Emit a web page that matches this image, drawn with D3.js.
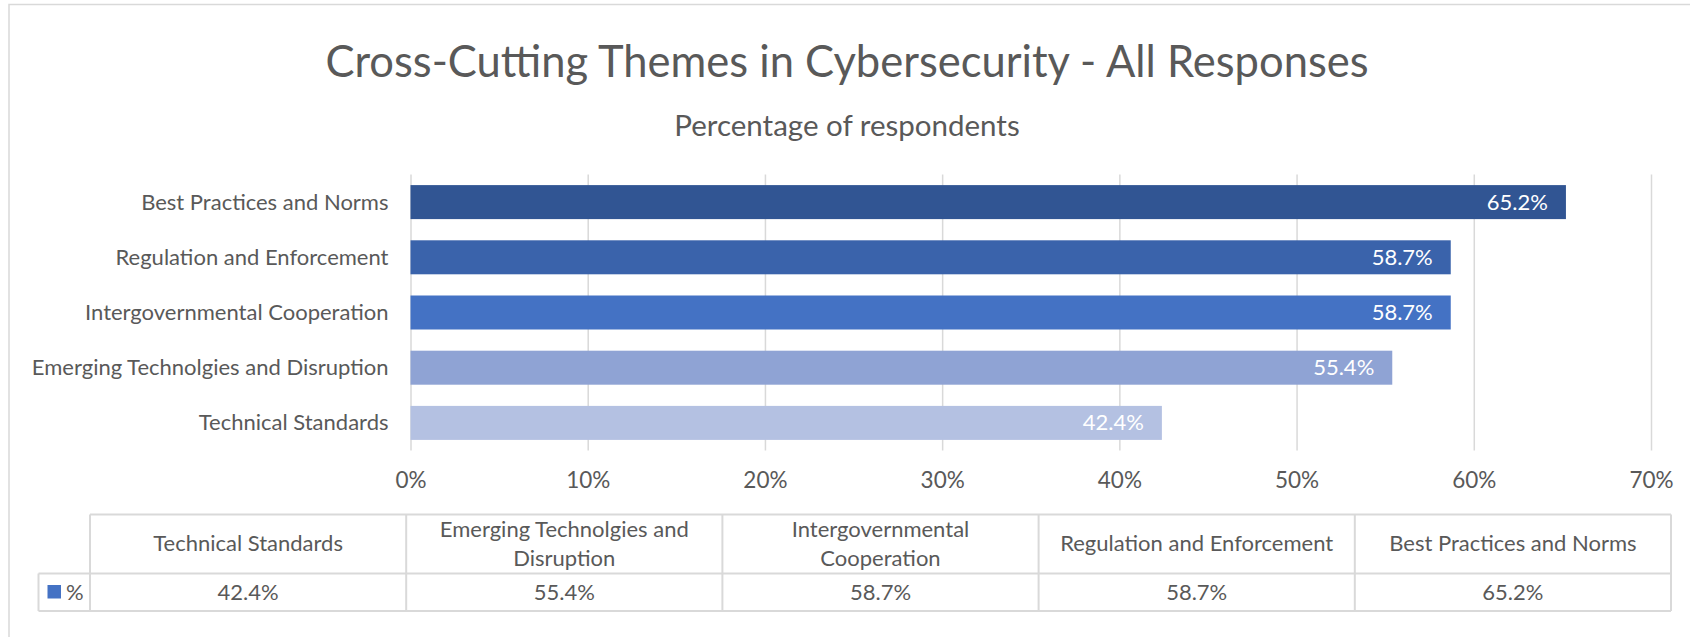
<!DOCTYPE html>
<html>
<head>
<meta charset="utf-8">
<script src="https://cdn.jsdelivr.net/npm/d3@7"></script>
<style>
  body { margin: 0; background: #fff; }
  svg text { font-family: Lato, 'Open Sans', sans-serif; fill: #595959; }
</style>
</head>
<body>
<svg id="chart" width="1690" height="637"></svg>
<script>
// chart values, bottom to top as in the sheet
const categories = [
  'Technical Standards',
  'Emerging Technolgies and Disruption',
  'Intergovernmental Cooperation',
  'Regulation and Enforcement',
  'Best Practices and Norms'
];
const values = [0.424, 0.554, 0.587, 0.587, 0.652];
const xTicks = [0, 0.1, 0.2, 0.3, 0.4, 0.5, 0.6, 0.7];
const seriesName = '%';
const titleText = 'Cross-Cutting Themes in Cybersecurity - All Responses';
const subtitleText = 'Percentage of respondents';

const barColors = ['#b4c1e2', '#8fa3d4', '#4472c4', '#3a63ab', '#315593'];
const gridColor = '#d9d9d9';
const fmt = d3.format('.1%');

const svg = d3.select('#chart');
const W = 1690;

// outer frame (only top and left edges are inside the picture)
svg.append('rect')
  .attr('x', 9).attr('y', 4.5)
  .attr('width', W + 20).attr('height', 700)
  .attr('fill', 'none')
  .attr('stroke', gridColor)
  .attr('stroke-width', 1.5);

const centerX = 847;
svg.append('text')
  .attr('x', centerX).attr('y', 76.5)
  .attr('text-anchor', 'middle')
  .style('font-size', '43.5px')
  .text(titleText);

svg.append('text')
  .attr('x', centerX).attr('y', 135.5)
  .attr('text-anchor', 'middle')
  .style('font-size', '29.5px')
  .text(subtitleText);

const plot = { left: 410.5, right: 1651, top: 174.5, bottom: 450.5 };

const x = d3.scaleLinear()
  .domain([0, 0.7])
  .range([plot.left, plot.right]);

const y = d3.scaleBand()
  .domain(categories.slice().reverse())
  .range([plot.top, plot.bottom])
  .paddingInner(0.384)
  .paddingOuter(0.192);

// x axis with gridlines
const xAxis = d3.axisBottom(x)
  .tickValues(xTicks)
  .tickFormat(d3.format('.0%'))
  .tickSizeInner(-(plot.bottom - plot.top))
  .tickSizeOuter(0);

const gx = svg.append('g')
  .attr('transform', `translate(0, ${plot.bottom})`)
  .call(xAxis);
gx.select('.domain').remove();
gx.selectAll('.tick line')
  .attr('stroke', gridColor)
  .attr('stroke-width', 1.5);
gx.selectAll('.tick text')
  .attr('y', 37.5)
  .attr('dy', 0)
  .style('font-size', '22.5px')
  .attr('fill', '#595959');

// category labels
const yAxis = d3.axisLeft(y).tickSize(0).tickPadding(22);
const gy = svg.append('g')
  .attr('transform', `translate(${plot.left}, 0)`)
  .call(yAxis);
gy.select('.domain').remove();
gy.selectAll('.tick text')
  .attr('dy', '0.34em')
  .style('font-size', '22px')
  .attr('fill', '#595959');

// bars
const rows = categories.map((c, i) => ({ c, v: values[i], color: barColors[i] }));

svg.append('g')
  .selectAll('rect')
  .data(rows)
  .join('rect')
  .attr('x', x(0))
  .attr('y', d => y(d.c))
  .attr('width', d => x(d.v) - x(0))
  .attr('height', y.bandwidth())
  .attr('fill', d => d.color);

svg.append('g')
  .selectAll('text')
  .data(rows)
  .join('text')
  .attr('x', d => x(d.v) - 18)
  .attr('y', d => y(d.c) + y.bandwidth() / 2)
  .attr('dy', '0.34em')
  .attr('text-anchor', 'end')
  .style('font-size', '22px')
  .style('fill', '#fff')
  .text(d => fmt(d.v));

// data table under the chart
const table = { left: 90, right: 1671, top: 514.5, mid: 573.5, bottom: 611, keyLeft: 38.5 };
const col = d3.scaleBand()
  .domain(categories)
  .range([table.left, table.right]);

const tg = svg.append('g');
const lineStyle = s => s.attr('stroke', gridColor).attr('stroke-width', 2);

tg.append('line')
  .attr('x1', table.left).attr('x2', table.right)
  .attr('y1', table.top).attr('y2', table.top)
  .call(lineStyle);
tg.append('line')
  .attr('x1', table.keyLeft).attr('x2', table.right)
  .attr('y1', table.mid).attr('y2', table.mid)
  .call(lineStyle);
tg.append('line')
  .attr('x1', table.keyLeft).attr('x2', table.right)
  .attr('y1', table.bottom).attr('y2', table.bottom)
  .call(lineStyle);
tg.append('line')
  .attr('x1', table.keyLeft).attr('x2', table.keyLeft)
  .attr('y1', table.mid).attr('y2', table.bottom)
  .call(lineStyle);

const colEdges = categories.map(c => col(c)).concat([table.right]);
tg.selectAll('.col-line')
  .data(colEdges)
  .join('line')
  .attr('class', 'col-line')
  .attr('x1', d => d).attr('x2', d => d)
  .attr('y1', table.top).attr('y2', table.bottom)
  .call(lineStyle);

// header cells, wrapped to the column width
const headers = tg.selectAll('.hdr')
  .data(categories)
  .join('text')
  .attr('class', 'hdr')
  .attr('text-anchor', 'middle')
  .style('font-size', '22px');

headers.each(function (c) {
  const t = d3.select(this);
  const cx = col(c) + col.bandwidth() / 2;
  const maxW = col.bandwidth() - 24;
  const words = c.split(' ');
  const lines = [];
  let line = [];
  const probe = t.append('tspan');
  words.forEach(w => {
    line.push(w);
    probe.text(line.join(' '));
    if (probe.node().getComputedTextLength() > maxW && line.length > 1) {
      line.pop();
      lines.push(line.join(' '));
      line = [w];
    }
  });
  lines.push(line.join(' '));
  probe.remove();
  const lh = 29.7;
  const firstY = (table.top + table.mid) / 2 - ((lines.length - 1) * lh) / 2;
  t.selectAll('tspan')
    .data(lines)
    .join('tspan')
    .attr('x', cx)
    .attr('y', (d, i) => firstY + i * lh)
    .attr('dy', '0.34em')
    .text(d => d);
});

tg.selectAll('.val')
  .data(rows)
  .join('text')
  .attr('class', 'val')
  .attr('x', d => col(d.c) + col.bandwidth() / 2)
  .attr('y', (table.mid + table.bottom) / 2)
  .attr('dy', '0.34em')
  .attr('text-anchor', 'middle')
  .style('font-size', '22px')
  .text(d => fmt(d.v));

// legend key
tg.append('rect')
  .attr('x', 47.5).attr('y', 585)
  .attr('width', 13.5).attr('height', 13.5)
  .attr('fill', '#4472c4');
tg.append('text')
  .attr('x', 66)
  .attr('y', (table.mid + table.bottom) / 2)
  .attr('dy', '0.34em')
  .style('font-size', '22px')
  .text(seriesName);
</script>
</body>
</html>
